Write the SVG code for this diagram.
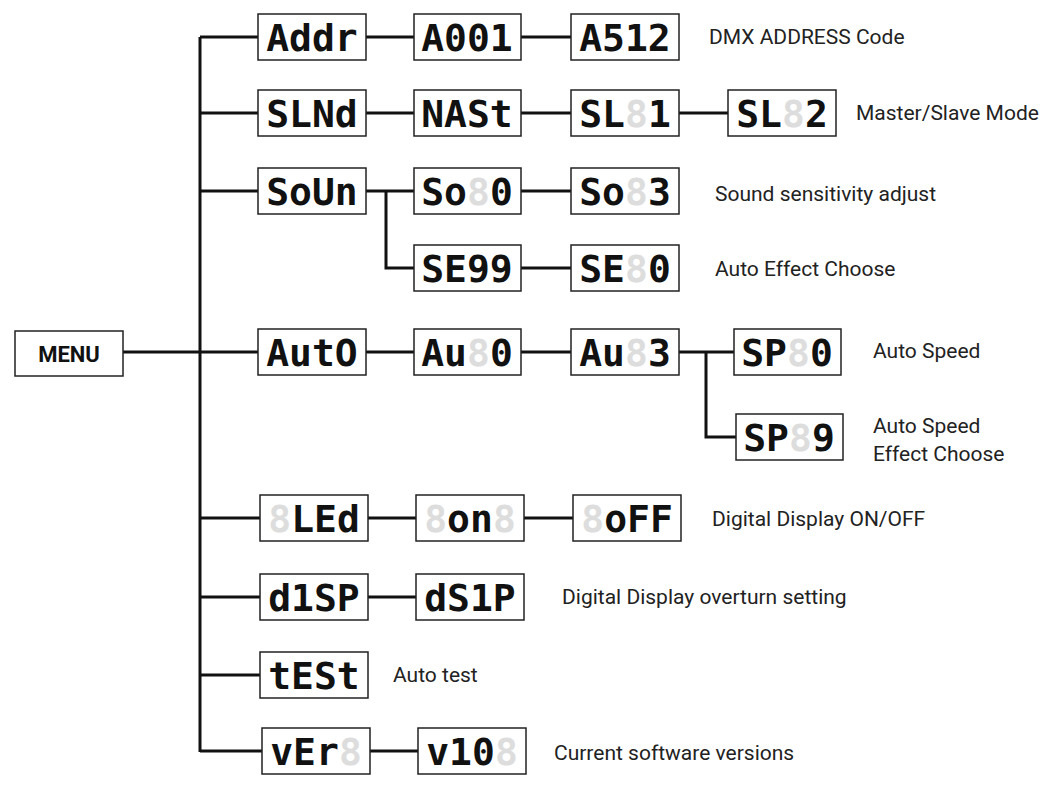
<svg xmlns="http://www.w3.org/2000/svg" width="1048" height="786" viewBox="0 0 1048 786">
<style>
.b{fill:#fff;stroke:#222;stroke-width:1.5}
.d{font-family:"DejaVu Sans Mono",monospace;font-weight:bold;font-size:38px;fill:#111;text-anchor:middle}
.o{fill:#ddd}
.l{font-family:Roboto,"Liberation Sans",sans-serif;font-size:21px;fill:#222}
.c{fill:none;stroke:#111;stroke-width:3}
</style>
<g id="connectors" class="c">
<line x1="200" y1="37" x2="200" y2="752"/>
<line x1="123" y1="352" x2="258" y2="352"/>
<polyline points="200,37 258,37"/><line x1="366" y1="37" x2="414" y2="37"/><line x1="521" y1="37" x2="571" y2="37"/>
<polyline points="200,113 258,113"/><line x1="366" y1="113" x2="414" y2="113"/><line x1="521" y1="113" x2="571" y2="113"/><line x1="679" y1="113" x2="728" y2="113"/>
<line x1="200" y1="191" x2="258" y2="191"/><line x1="366" y1="191" x2="414" y2="191"/><line x1="521" y1="191" x2="571" y2="191"/>
<polyline points="386,191 386,268 414,268"/><line x1="521" y1="268" x2="571" y2="268"/>
<line x1="366" y1="352" x2="414" y2="352"/><line x1="521" y1="352" x2="571" y2="352"/><line x1="679" y1="352" x2="734" y2="352"/>
<polyline points="706,352 706,437 736,437"/>
<line x1="200" y1="518" x2="260" y2="518"/><line x1="368" y1="518" x2="416" y2="518"/><line x1="524" y1="518" x2="573" y2="518"/>
<line x1="200" y1="597" x2="260" y2="597"/><line x1="368" y1="597" x2="416" y2="597"/>
<line x1="200" y1="675" x2="260" y2="675"/>
<polyline points="200,751 262,751"/><line x1="370" y1="751" x2="418" y2="751"/>
</g>
<g id="menu"><rect class="b" x="15" y="331" width="108" height="45"/><text x="69" y="362" font-family="Roboto,'Liberation Sans',sans-serif" font-weight="bold" font-size="22" text-anchor="middle" fill="#111">MENU</text></g>
<g id="addr"><rect class="b" x="258" y="14" width="108" height="46"/><text class="d" x="312" y="51">Addr</text></g>
<g id="a001"><rect class="b" x="414" y="14" width="107" height="46"/><text class="d" x="467" y="51">A001</text></g>
<g id="a512"><rect class="b" x="571" y="14" width="108" height="46"/><text class="d" x="625" y="51">A512</text></g>
<text class="l" x="709" y="44">DMX ADDRESS Code</text>
<g id="slnd"><rect class="b" x="258" y="90" width="108" height="46"/><text class="d" x="312" y="127">SLNd</text></g>
<g id="nast"><rect class="b" x="414" y="90" width="107" height="46"/><text class="d" x="467" y="127">NASt</text></g>
<g id="sl1"><rect class="b" x="571" y="90" width="108" height="46"/><text class="d" x="625" y="127">SL<tspan class="o">8</tspan>1</text></g>
<g id="sl2"><rect class="b" x="728" y="90" width="108" height="46"/><text class="d" x="782" y="127">SL<tspan class="o">8</tspan>2</text></g>
<text class="l" x="856" y="120">Master/Slave Mode</text>
<g id="soun"><rect class="b" x="258" y="168" width="108" height="46"/><text class="d" x="312" y="205">SoUn</text></g>
<g id="so0"><rect class="b" x="414" y="168" width="107" height="46"/><text class="d" x="467" y="205">So<tspan class="o">8</tspan>0</text></g>
<g id="so3"><rect class="b" x="571" y="168" width="108" height="46"/><text class="d" x="625" y="205">So<tspan class="o">8</tspan>3</text></g>
<text class="l" x="715" y="201">Sound sensitivity adjust</text>
<g id="se99"><rect class="b" x="414" y="245" width="107" height="46"/><text class="d" x="467" y="282">SE99</text></g>
<g id="se0"><rect class="b" x="571" y="245" width="108" height="46"/><text class="d" x="625" y="282">SE<tspan class="o">8</tspan>0</text></g>
<text class="l" x="715" y="276">Auto Effect Choose</text>
<g id="auto"><rect class="b" x="258" y="329" width="108" height="46"/><text class="d" x="312" y="366">AutO</text></g>
<g id="au0"><rect class="b" x="414" y="329" width="107" height="46"/><text class="d" x="467" y="366">Au<tspan class="o">8</tspan>0</text></g>
<g id="au3"><rect class="b" x="571" y="329" width="108" height="46"/><text class="d" x="625" y="366">Au<tspan class="o">8</tspan>3</text></g>
<g id="sp0"><rect class="b" x="734" y="329" width="107" height="46"/><text class="d" x="787" y="366">SP<tspan class="o">8</tspan>0</text></g>
<g id="sp9"><rect class="b" x="736" y="414" width="107" height="46"/><text class="d" x="789" y="451">SP<tspan class="o">8</tspan>9</text></g>
<text class="l" x="873" y="358">Auto Speed</text>
<text class="l" x="873" y="433">Auto Speed</text><text class="l" x="873" y="461">Effect Choose</text>
<g id="led"><rect class="b" x="260" y="495" width="108" height="46"/><text class="d" x="314" y="532"><tspan class="o">8</tspan>LEd</text></g>
<g id="on"><rect class="b" x="416" y="495" width="108" height="46"/><text class="d" x="470" y="532"><tspan class="o">8</tspan>on<tspan class="o">8</tspan></text></g>
<g id="off"><rect class="b" x="573" y="495" width="108" height="46"/><text class="d" x="627" y="532"><tspan class="o">8</tspan>oFF</text></g>
<text class="l" x="712" y="526">Digital Display ON/OFF</text>
<g id="disp"><rect class="b" x="260" y="574" width="108" height="46"/><text class="d" x="314" y="611">d1SP</text></g>
<g id="ds1p"><rect class="b" x="416" y="574" width="108" height="46"/><text class="d" x="470" y="611">dS1P</text></g>
<text class="l" x="562" y="604">Digital Display overturn setting</text>
<g id="test"><rect class="b" x="260" y="652" width="108" height="46"/><text class="d" x="314" y="689">tESt</text></g>
<text class="l" x="393" y="682">Auto test</text>
<g id="ver"><rect class="b" x="262" y="728" width="108" height="46"/><text class="d" x="316" y="765">vEr<tspan class="o">8</tspan></text></g>
<g id="v10"><rect class="b" x="418" y="728" width="108" height="46"/><text class="d" x="472" y="765">v10<tspan class="o">8</tspan></text></g>
<text class="l" x="554" y="760">Current software versions</text>
</svg>
